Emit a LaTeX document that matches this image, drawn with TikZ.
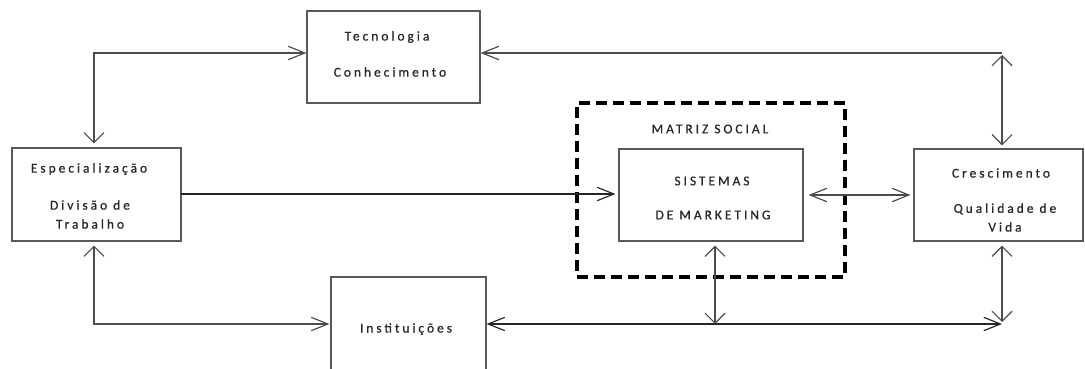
\documentclass[tikz,border=0pt]{standalone}
\usepackage{fontspec}
\setmainfont[LetterSpace=22,FakeBold=0.6]{Carlito}
\usetikzlibrary{arrows.meta}
\tikzset{
  hbarb/.tip={Straight Barb[length=0.5cm,width=0.4cm,line width=1pt]},
  vbarb/.tip={Straight Barb[length=0.3cm,width=0.6cm,line width=1pt]},
  box/.style={draw=black!65,line width=1pt,inner sep=0pt},
  lbl/.style={font=\fontsize{11.5}{13}\selectfont,text=black!85,inner sep=0pt},
  conn/.style={draw=black!70,line width=1.1pt},
  sh/.style={shorten >=3*0.03cm},
}
\begin{document}
\begin{tikzpicture}[x=0.03cm,y=-0.03cm]
\useasboundingbox (0,0) rectangle (1085,369);
\clip (0,0) rectangle (1085,369);
% boxes
\node[box,minimum width=173*0.03cm,minimum height=92*0.03cm] (tec) at (393.5,57) {};
\node[box,minimum width=169*0.03cm,minimum height=93*0.03cm] (esp) at (96.5,194.5) {};
\node[box,minimum width=155*0.03cm,minimum height=110*0.03cm] (inst) at (408.5,332) {};
\node[box,minimum width=184*0.03cm,minimum height=92*0.03cm] (sis) at (711,195) {};
\node[draw=black,line width=2.6pt,dash pattern=on 0.34cm off 0.17cm,minimum width=268*0.03cm,minimum height=174*0.03cm,inner sep=0pt] (mat) at (711,190) {};
\node[box,minimum width=169*0.03cm,minimum height=92*0.03cm] (cre) at (998.5,195) {};
% texts
\node[lbl] (tec1) at (387,37) {Tecnologia};
\node[lbl] (tec2) at (390,72) {Conhecimento};
\node[lbl] (esp1) at (89,169) {Especialização};
\node[lbl] (esp2) at (90,205) {Divisão de};
\node[lbl] (esp3) at (90,224) {Trabalho};
\node[lbl] (inst1) at (406,329) {Instituições};
\node[lbl] (mat1) at (710,129) {MATRIZ SOCIAL};
\node[lbl] (sis1) at (712,181) {SISTEMAS};
\node[lbl] (sis2) at (713,215) {DE MARKETING};
\node[lbl] (cre1) at (1001,173) {Crescimento};
\node[lbl] (cre2) at (1005,209) {Qualidade de};
\node[lbl] (cre3) at (1005,227) {Vida};
% coordinates
\coordinate (c1) at (94,53);
\coordinate (c2) at (94,324);
\coordinate (c3) at (1002,53);
\coordinate (c4) at (1002,324);
\coordinate (c5) at (715,324);
\coordinate (m1) at (181,194);
% connectors
\draw[conn,{vbarb}-{hbarb},shorten <=4*0.03cm] (esp.north -| c1) -- (c1) -- (c1 -| tec.west);
\draw[conn,{vbarb}-{hbarb},shorten <=4*0.03cm,shorten >=1*0.03cm] (esp.south -| c2) -- (c2) -- (c2 -| inst.west);
\draw[conn,draw=black!85,-{hbarb},sh] (m1) -- (m1 -| sis.west);
\draw[conn,{hbarb}-] (c3 -| tec.east) -- (c3);
\draw[conn,{vbarb}-{vbarb},shorten <=2*0.03cm,sh] (c3) -- (c3 |- cre.north);
\draw[conn,{hbarb}-{hbarb},shorten <=5*0.03cm,sh] (sis.east) -- (cre.west);
\draw[conn,draw=black!85,{hbarb}-{hbarb}] (c4 -| inst.east) -- (c4);
\draw[conn,{vbarb}-{vbarb},shorten <=4*0.03cm,shorten >=2*0.03cm] (cre.south -| c4) -- (c4);
\draw[conn,{vbarb}-{vbarb},shorten <=4*0.03cm] (sis.south -| c5) -- (c5);
\end{tikzpicture}
\end{document}
